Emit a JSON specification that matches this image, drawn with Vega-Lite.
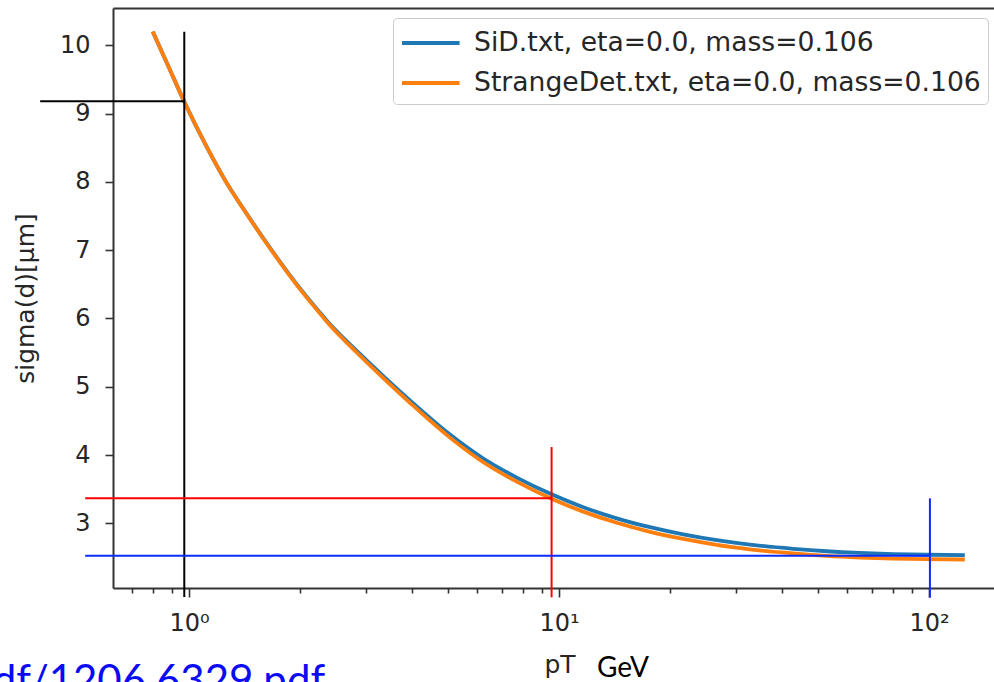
{
  "$schema": "https://vega.github.io/schema/vega-lite/v6.json",
  "autosize": {"type": "none"},
  "width": 881,
  "height": 580,
  "padding": {"left": 113, "top": 8, "right": 0, "bottom": 94},
  "background": "white",
  "config": {
    "font": "DejaVu Sans",
    "view": {"stroke": null},
    "axis": {
      "grid": false,
      "labelFont": "DejaVu Sans",
      "titleFont": "DejaVu Sans",
      "labelColor": "#262626",
      "titleColor": "#262626",
      "tickColor": "#333333",
      "domainColor": "#333333",
      "domainWidth": 2,
      "tickWidth": 1.6,
      "labelFontSize": 24,
      "titleFontSize": 25,
      "titleFontWeight": "normal",
      "labelFlush": false,
      "labelOverlap": false
    }
  },
  "datasets": {
    "curves": [
      {"pT": 0.798, "sigma": 10.2, "det": "SiD.txt, eta=0.0, mass=0.106"},
      {"pT": 0.88, "sigma": 9.69, "det": "SiD.txt, eta=0.0, mass=0.106"},
      {"pT": 0.971, "sigma": 9.174, "det": "SiD.txt, eta=0.0, mass=0.106"},
      {"pT": 1.122, "sigma": 8.49, "det": "SiD.txt, eta=0.0, mass=0.106"},
      {"pT": 1.259, "sigma": 8.0, "det": "SiD.txt, eta=0.0, mass=0.106"},
      {"pT": 1.413, "sigma": 7.58, "det": "SiD.txt, eta=0.0, mass=0.106"},
      {"pT": 1.585, "sigma": 7.18, "det": "SiD.txt, eta=0.0, mass=0.106"},
      {"pT": 1.778, "sigma": 6.8, "det": "SiD.txt, eta=0.0, mass=0.106"},
      {"pT": 1.995, "sigma": 6.44, "det": "SiD.txt, eta=0.0, mass=0.106"},
      {"pT": 2.239, "sigma": 6.11, "det": "SiD.txt, eta=0.0, mass=0.106"},
      {"pT": 2.355, "sigma": 5.97, "det": "SiD.txt, eta=0.0, mass=0.106"},
      {"pT": 2.845, "sigma": 5.52, "det": "SiD.txt, eta=0.0, mass=0.106"},
      {"pT": 3.39, "sigma": 5.13, "det": "SiD.txt, eta=0.0, mass=0.106"},
      {"pT": 3.956, "sigma": 4.8, "det": "SiD.txt, eta=0.0, mass=0.106"},
      {"pT": 5.075, "sigma": 4.3, "det": "SiD.txt, eta=0.0, mass=0.106"},
      {"pT": 6.245, "sigma": 3.949, "det": "SiD.txt, eta=0.0, mass=0.106"},
      {"pT": 7.687, "sigma": 3.67, "det": "SiD.txt, eta=0.0, mass=0.106"},
      {"pT": 9.55, "sigma": 3.425, "det": "SiD.txt, eta=0.0, mass=0.106"},
      {"pT": 11.63, "sigma": 3.236, "det": "SiD.txt, eta=0.0, mass=0.106"},
      {"pT": 14.32, "sigma": 3.073, "det": "SiD.txt, eta=0.0, mass=0.106"},
      {"pT": 17.62, "sigma": 2.943, "det": "SiD.txt, eta=0.0, mass=0.106"},
      {"pT": 21.67, "sigma": 2.838, "det": "SiD.txt, eta=0.0, mass=0.106"},
      {"pT": 26.68, "sigma": 2.753, "det": "SiD.txt, eta=0.0, mass=0.106"},
      {"pT": 32.8, "sigma": 2.688, "det": "SiD.txt, eta=0.0, mass=0.106"},
      {"pT": 43.0, "sigma": 2.627, "det": "SiD.txt, eta=0.0, mass=0.106"},
      {"pT": 52.9, "sigma": 2.591, "det": "SiD.txt, eta=0.0, mass=0.106"},
      {"pT": 65.1, "sigma": 2.566, "det": "SiD.txt, eta=0.0, mass=0.106"},
      {"pT": 80.1, "sigma": 2.55, "det": "SiD.txt, eta=0.0, mass=0.106"},
      {"pT": 98.6, "sigma": 2.54, "det": "SiD.txt, eta=0.0, mass=0.106"},
      {"pT": 125, "sigma": 2.535, "det": "SiD.txt, eta=0.0, mass=0.106"},
      {"pT": 0.798, "sigma": 10.2, "det": "StrangeDet.txt, eta=0.0, mass=0.106"},
      {"pT": 0.88, "sigma": 9.69, "det": "StrangeDet.txt, eta=0.0, mass=0.106"},
      {"pT": 0.971, "sigma": 9.174, "det": "StrangeDet.txt, eta=0.0, mass=0.106"},
      {"pT": 1.122, "sigma": 8.49, "det": "StrangeDet.txt, eta=0.0, mass=0.106"},
      {"pT": 1.259, "sigma": 8.0, "det": "StrangeDet.txt, eta=0.0, mass=0.106"},
      {"pT": 1.413, "sigma": 7.578, "det": "StrangeDet.txt, eta=0.0, mass=0.106"},
      {"pT": 1.585, "sigma": 7.175, "det": "StrangeDet.txt, eta=0.0, mass=0.106"},
      {"pT": 1.778, "sigma": 6.793, "det": "StrangeDet.txt, eta=0.0, mass=0.106"},
      {"pT": 1.995, "sigma": 6.43, "det": "StrangeDet.txt, eta=0.0, mass=0.106"},
      {"pT": 2.239, "sigma": 6.098, "det": "StrangeDet.txt, eta=0.0, mass=0.106"},
      {"pT": 2.355, "sigma": 5.955, "det": "StrangeDet.txt, eta=0.0, mass=0.106"},
      {"pT": 2.845, "sigma": 5.498, "det": "StrangeDet.txt, eta=0.0, mass=0.106"},
      {"pT": 3.39, "sigma": 5.1, "det": "StrangeDet.txt, eta=0.0, mass=0.106"},
      {"pT": 3.956, "sigma": 4.765, "det": "StrangeDet.txt, eta=0.0, mass=0.106"},
      {"pT": 5.075, "sigma": 4.255, "det": "StrangeDet.txt, eta=0.0, mass=0.106"},
      {"pT": 6.245, "sigma": 3.894, "det": "StrangeDet.txt, eta=0.0, mass=0.106"},
      {"pT": 7.687, "sigma": 3.61, "det": "StrangeDet.txt, eta=0.0, mass=0.106"},
      {"pT": 9.55, "sigma": 3.36, "det": "StrangeDet.txt, eta=0.0, mass=0.106"},
      {"pT": 11.63, "sigma": 3.171, "det": "StrangeDet.txt, eta=0.0, mass=0.106"},
      {"pT": 14.32, "sigma": 3.008, "det": "StrangeDet.txt, eta=0.0, mass=0.106"},
      {"pT": 17.62, "sigma": 2.876, "det": "StrangeDet.txt, eta=0.0, mass=0.106"},
      {"pT": 21.67, "sigma": 2.771, "det": "StrangeDet.txt, eta=0.0, mass=0.106"},
      {"pT": 26.68, "sigma": 2.685, "det": "StrangeDet.txt, eta=0.0, mass=0.106"},
      {"pT": 32.8, "sigma": 2.62, "det": "StrangeDet.txt, eta=0.0, mass=0.106"},
      {"pT": 43.0, "sigma": 2.559, "det": "StrangeDet.txt, eta=0.0, mass=0.106"},
      {"pT": 52.9, "sigma": 2.523, "det": "StrangeDet.txt, eta=0.0, mass=0.106"},
      {"pT": 65.1, "sigma": 2.499, "det": "StrangeDet.txt, eta=0.0, mass=0.106"},
      {"pT": 80.1, "sigma": 2.484, "det": "StrangeDet.txt, eta=0.0, mass=0.106"},
      {"pT": 98.6, "sigma": 2.475, "det": "StrangeDet.txt, eta=0.0, mass=0.106"},
      {"pT": 125, "sigma": 2.47, "det": "StrangeDet.txt, eta=0.0, mass=0.106"}
    ],
    "blackLines": [
      {"xa": 0.396, "xb": 0.971, "ya": 9.18, "yb": 9.18},
      {"xa": 0.971, "xb": 0.971, "ya": 10.2, "yb": 1.92}
    ],
    "redLines": [
      {"xa": 0.524, "xb": 9.55, "ya": 3.366, "yb": 3.366},
      {"xa": 9.55, "xb": 9.55, "ya": 4.117, "yb": 1.916}
    ],
    "blueLines": [
      {"xa": 0.524, "xb": 100.6, "ya": 2.526, "yb": 2.526},
      {"xa": 100.6, "xb": 100.6, "ya": 3.366, "yb": 1.911}
    ]
  },
  "resolve": {"axis": {"x": "independent", "y": "independent"}},
  "layer": [
    {
      "data": {"name": "curves"},
      "mark": {"type": "line", "strokeWidth": 3.8, "interpolate": "monotone"},
      "encoding": {
        "x": {
          "field": "pT", "type": "quantitative",
          "scale": {"type": "log", "domain": [0.6231, 149.9], "nice": false},
          "axis": {
            "orient": "bottom",
            "values": [1, 10, 100],
            "labelExpr": "datum.value == 1 ? '10⁰' : datum.value == 10 ? '10¹' : '10²'",
            "tickSize": 9,
            "labelPadding": 14,
            "title": "pT",
            "titlePadding": 17,
            "titleX": 446.5,
            "domain": true
          }
        },
        "y": {
          "field": "sigma", "type": "quantitative",
          "scale": {"domain": [2.053, 10.546], "zero": false, "nice": false},
          "axis": {
            "orient": "left",
            "values": [3, 4, 5, 6, 7, 8, 9, 10],
            "format": "d",
            "tickSize": 8,
            "labelPadding": 15,
            "title": "sigma(d)[μm]",
            "titlePadding": 21,
            "domain": true
          }
        },
        "color": {
          "field": "det", "type": "nominal",
          "scale": {"domain": ["SiD.txt, eta=0.0, mass=0.106", "StrangeDet.txt, eta=0.0, mass=0.106"], "range": ["#1f77b4", "#ff7f0e"]},
          "legend": {
            "title": null,
            "orient": "none",
            "legendX": 280,
            "legendY": 10,
            "labelFont": "DejaVu Sans",
            "labelFontSize": 26.6,
            "labelColor": "#262626",
            "labelLimit": 0,
            "symbolType": "M-1,0H2.6",
            "symbolSize": 1024,
            "symbolStrokeWidth": 4,
            "labelOffset": 38,
            "padding": 7,
            "rowPadding": 8,
            "strokeColor": "#cccccc",
            "fillColor": "white",
            "cornerRadius": 4
          }
        }
      }
    },
    {
      "data": {"name": "blackLines"},
      "mark": {"type": "rule", "color": "#000000", "strokeWidth": 2},
      "encoding": {
        "x": {
          "field": "xa", "type": "quantitative",
          "scale": {"type": "log", "domain": [0.6231, 149.9], "nice": false},
          "axis": {
            "orient": "bottom",
            "values": [0.7, 0.8, 0.9, 2, 3, 4, 5, 6, 7, 8, 9, 20, 30, 40, 50, 60, 70, 80, 90],
            "tickSize": 5,
            "labels": false,
            "domain": false,
            "title": null
          }
        },
        "x2": {"field": "xb"},
        "y": {"field": "ya", "type": "quantitative", "scale": {"domain": [2.053, 10.546], "zero": false, "nice": false}, "axis": null},
        "y2": {"field": "yb"}
      }
    },
    {
      "data": {"name": "redLines"},
      "mark": {"type": "rule", "color": "#ff0000", "strokeWidth": 2},
      "encoding": {
        "x": {
          "field": "xa", "type": "quantitative",
          "scale": {"type": "log", "domain": [0.6231, 149.9], "nice": false},
          "axis": {
            "orient": "top",
            "ticks": false,
            "labels": false,
            "domain": true,
            "title": null
          }
        },
        "x2": {"field": "xb"},
        "y": {"field": "ya", "type": "quantitative", "scale": {"domain": [2.053, 10.546], "zero": false, "nice": false}, "axis": null},
        "y2": {"field": "yb"}
      }
    },
    {
      "data": {"name": "blueLines"},
      "mark": {"type": "rule", "color": "#0a2cff", "strokeWidth": 2},
      "encoding": {
        "x": {"field": "xa", "type": "quantitative", "scale": {"type": "log", "domain": [0.6231, 149.9], "nice": false}, "axis": null},
        "x2": {"field": "xb"},
        "y": {"field": "ya", "type": "quantitative", "scale": {"domain": [2.053, 10.546], "zero": false, "nice": false}, "axis": null},
        "y2": {"field": "yb"}
      }
    },
    {
      "data": {"values": [{"note": "GeV"}]},
      "mark": {"type": "text", "font": "Lato", "fontSize": 28, "color": "#000000", "align": "left", "baseline": "alphabetic"},
      "encoding": {
        "text": {"field": "note", "type": "nominal"},
        "x": {"datum": 12.67, "type": "quantitative", "scale": {"type": "log", "domain": [0.6231, 149.9], "nice": false}, "axis": null},
        "y": {"datum": 0.749, "type": "quantitative", "scale": {"domain": [2.053, 10.546], "zero": false, "nice": false}, "axis": null}
      }
    },
    {
      "data": {"values": [{"note": "arxiv.org/pdf/1206.6329.pdf"}]},
      "mark": {"type": "text", "font": "Lato", "fontSize": 42, "color": "#0a0af5", "align": "right", "baseline": "alphabetic"},
      "encoding": {
        "text": {"field": "note", "type": "nominal"},
        "x": {"datum": 2.333, "type": "quantitative", "scale": {"type": "log", "domain": [0.6231, 149.9], "nice": false}, "axis": null},
        "y": {"datum": 0.486, "type": "quantitative", "scale": {"domain": [2.053, 10.546], "zero": false, "nice": false}, "axis": null}
      }
    }
  ]
}
